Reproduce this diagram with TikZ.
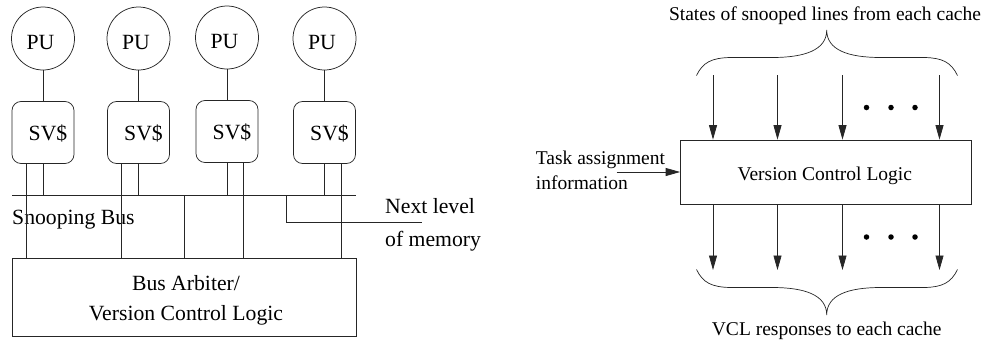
\documentclass[tikz,border=0pt]{standalone}
\usepackage{fontspec}
\setmainfont{Liberation Serif}
\usetikzlibrary{arrows.meta}
\tikzset{
  x=1pt,y=-1pt,
  wire/.style={line width=0.75pt,draw=black!85},
  arrowwire/.style={wire,-{Triangle[length=14.5pt,width=8pt]}},
  pu/.style={circle,wire,minimum size=63pt,inner sep=0pt,anchor=center},
  sv/.style={rectangle,rounded corners=9pt,wire,minimum size=62pt,inner sep=0pt},
  blockbox/.style={rectangle,wire,inner sep=0pt,align=center},
  txt/.style={inner sep=0pt,font=\fontsize{19.5pt}{23pt}\selectfont},
  ltxt/.style={inner sep=0pt,font=\fontsize{21.7pt}{25pt}\selectfont},
  brace/.style={wire,line width=0.7pt},
  dotmark/.style={circle,fill=black,inner sep=0pt,minimum size=5.5pt},
}
\begin{document}
\begin{tikzpicture}
\useasboundingbox (0,0) rectangle (983,341);
% left part
\foreach \n/\x/\y in {1/43/38.5,2/138.5/38.5,3/227/37.5,4/324.5/38.5}{
  \node[pu] (pu\n) at (\x,\y) {};
  \pgfmathsetmacro{\yy}{\y+94}
  \node[sv] (sv\n) at (\x,\yy) {};
  \node[ltxt,anchor=base] (putxt\n) at ([xshift=-2.5pt,yshift=-10.5pt]pu\n.center) {PU};
  \node[ltxt,anchor=base] (svtxt\n) at ([xshift=5pt,yshift=-7.5pt]sv\n.center) {SV\$};
  \draw[wire] (pu\n) -- (sv\n);
}
\coordinate (busL) at (12,195);
\coordinate (busR) at (356,195);
\draw[wire] (busL) -- (busR);
\node[blockbox,minimum width=344pt,minimum height=78pt] (arb) at (184,297) {};
\node[ltxt,anchor=base] (arb1) at (186,290) {Bus Arbiter/};
\node[ltxt,anchor=base] (arb2) at (186,320.7) {Version Control Logic};
\node[ltxt,anchor=base west] (snoop) at (12,224) {Snooping Bus};
\node[ltxt,anchor=base west] (next1) at (385,213) {Next level};
\node[ltxt,anchor=base west] (next2) at (385,246) {of memory};
\foreach \n in {1,2,3,4}{
  \draw[wire] (sv\n.south) -- (sv\n.south |- busL);
}
\foreach \n/\dx in {1/-17,2/-17,3/16.5,4/16.5}{
  \draw[wire] ([xshift=\dx pt]sv\n.south) -- ([xshift=\dx pt]sv\n.south |- arb.north);
}
\coordinate (busT) at (184,195);
\draw[wire] (busT) -- (arb.north);
\coordinate (busN) at (286.5,195);
\coordinate (nextEnd) at (422,222);
\draw[wire] (busN) |- (nextEnd);
% right part
\node[blockbox,minimum width=291pt,minimum height=64pt] (vcl) at (826,172) {};
\node[txt,anchor=base] (vcltxt) at (824.8,180) {Version Control Logic};
\node[txt,anchor=base west] (task1) at (535.7,164) {Task assignment};
\node[txt,anchor=base west] (task2) at (535.7,189) {information};
\coordinate (taskS) at (616.5,172);
\draw[arrowwire] (taskS) -- (vcl.west |- taskS);
\node[txt,anchor=base] (stat) at (825,20) {States of snooped lines from each cache};
\node[txt,anchor=base] (resp) at (826.7,335) {VCL responses to each cache};
\foreach \n/\x in {1/713,2/777.5,3/842.5,4/939.5}{
  \coordinate (t\n) at (\x,75);
  \coordinate (b\n) at (\x,270);
  \draw[arrowwire] (t\n) -- (t\n |- vcl.north);
  \draw[arrowwire] (b\n |- vcl.south) -- (b\n);
}
\foreach \n/\x in {1/866.5,2/891,3/915}{
  \node[dotmark] (dt\n) at (\x,107.5) {};
  \node[dotmark] (db\n) at (\x,237) {};
}
\draw[brace] (696.5,75.5) .. controls (703,62) and (712,58) .. (730,57.5)
  -- (772,57.5) .. controls (805,57.5) and (826.7,50) .. (826.7,30)
  .. controls (826.7,50) and (848,57.5) .. (881,57.5)
  -- (925,57.5) .. controls (942,58) and (951,62) .. (957.5,75.5);
\draw[brace] (696.5,269.5) .. controls (703,283) and (712,287) .. (730,287.5)
  -- (772,287.5) .. controls (805,287.5) and (826.7,295) .. (826.7,315)
  .. controls (826.7,295) and (848,287.5) .. (881,287.5)
  -- (925,287.5) .. controls (942,287) and (951,283) .. (957.5,269.5);
\end{tikzpicture}
\end{document}
